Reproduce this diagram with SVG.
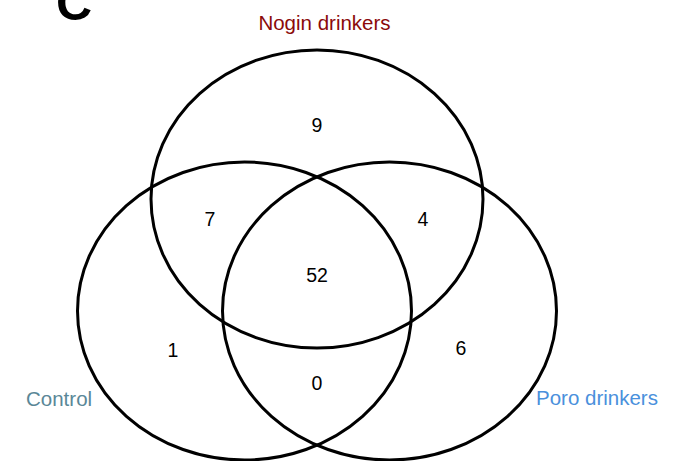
<svg xmlns="http://www.w3.org/2000/svg" width="681" height="461" viewBox="0 0 681 461">
<style>
.set{fill:none;stroke:#000;stroke-width:3}
.num{font-family:"Liberation Sans",Arial,sans-serif;font-size:19.5px;fill:#000;text-anchor:middle}
.lab{font-family:"Liberation Sans",Arial,sans-serif;font-size:20.5px}
</style>
<rect width="681" height="461" fill="#fff"/>
<text x="56" y="20" font-family="Liberation Sans,Arial,sans-serif" font-weight="bold" font-size="50" fill="#000">C</text>
<g id="nogin"><ellipse class="set" cx="317" cy="199" rx="166" ry="149"/>
<text class="lab" x="324.5" y="30" text-anchor="middle" fill="#8b0a0a">Nogin drinkers</text></g>
<g id="control"><ellipse class="set" cx="244.5" cy="311" rx="167" ry="149"/>
<text class="lab" x="26" y="406" fill="#5a8797">Control</text></g>
<g id="poro"><ellipse class="set" cx="389.5" cy="311" rx="167" ry="149"/>
<text class="lab" x="536" y="405" fill="#4a90dc">Poro drinkers</text></g>
<g id="counts">
<text class="num" x="317" y="132">9</text>
<text class="num" x="210" y="226">7</text>
<text class="num" x="423" y="226">4</text>
<text class="num" x="317" y="282">52</text>
<text class="num" x="173" y="357">1</text>
<text class="num" x="461" y="355">6</text>
<text class="num" x="317" y="390">0</text>
</g>
<g id="connectors"></g>
</svg>
